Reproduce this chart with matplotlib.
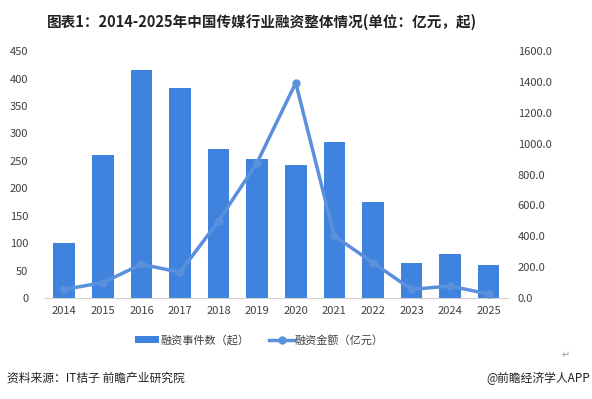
import numpy as np
import matplotlib.pyplot as plt

plt.rcParams['font.family'] = ['Noto Sans CJK SC', 'DejaVu Sans']

# 数据
years = ['2014', '2015', '2016', '2017', '2018', '2019', '2020',
         '2021', '2022', '2023', '2024', '2025']
events = [100, 260, 416, 383, 272, 253, 242, 285, 175, 64, 80, 60]
amounts = [56, 100, 219, 167, 500, 878, 1394, 402, 229, 56, 78, 26]

bar_color = '#3F83DE'
line_color = '#5B90DD'
text_color = '#404040'

fig = plt.figure(figsize=(5.92, 3.99), dpi=100)
ax = fig.add_axes([0.076, 0.253, 0.782, 0.619])
ax2 = ax.twinx()

x = np.arange(len(years))
ax.bar(x, events, width=0.56, color=bar_color, label='融资事件数（起）', zorder=2)
ax2.plot(x, amounts, color=line_color, lw=2.5, marker='o', ms=5,
         label='融资金额（亿元）', zorder=3)

ax.set_xlim(-0.5, len(years) - 0.5)
ax.set_ylim(0, 450)
ax.set_yticks(range(0, 451, 50))
ax2.set_ylim(0, 1600)
ax2.set_yticks(range(0, 1601, 200))
ax2.set_yticklabels([f'{v:.1f}' for v in range(0, 1601, 200)])
ax.set_xticks(x)
ax.set_xticklabels(years)

for a in (ax, ax2):
    for s in a.spines.values():
        s.set_visible(False)
    a.tick_params(length=0, labelsize=8, colors=text_color)
ax.spines['bottom'].set_visible(True)
ax.spines['bottom'].set_color('#D0D0D0')
ax.tick_params(axis='x', pad=6)
ax.tick_params(axis='y', pad=12)
ax2.tick_params(axis='y', pad=7)

# 图例
h1, l1 = ax.get_legend_handles_labels()
h2, l2 = ax2.get_legend_handles_labels()
fig.legend(h1 + h2, l1 + l2, loc='center', bbox_to_anchor=(0.438, 0.148),
           ncol=2, frameon=False, fontsize=8, handlelength=2.2, handleheight=0.5,
           handletextpad=0.1, columnspacing=1.8, labelcolor=text_color)

fig.text(0.442, 0.945, '图表1：2014-2025年中国传媒行业融资整体情况(单位：亿元，起)',
         ha='center', va='center', fontsize=10.5, fontweight='bold', color='#222222')
fig.text(0.012, 0.052, '资料来源：IT桔子 前瞻产业研究院', ha='left', va='center',
         fontsize=8.5, color='#222222')
fig.text(0.997, 0.052, '@前瞻经济学人APP', ha='right', va='center',
         fontsize=8.5, color='#222222')
fig.text(0.955, 0.11, '↵', ha='center', va='center', fontsize=7,
         color='#999999', family=['DejaVu Sans'])

fig.savefig('out.png', dpi=100)
